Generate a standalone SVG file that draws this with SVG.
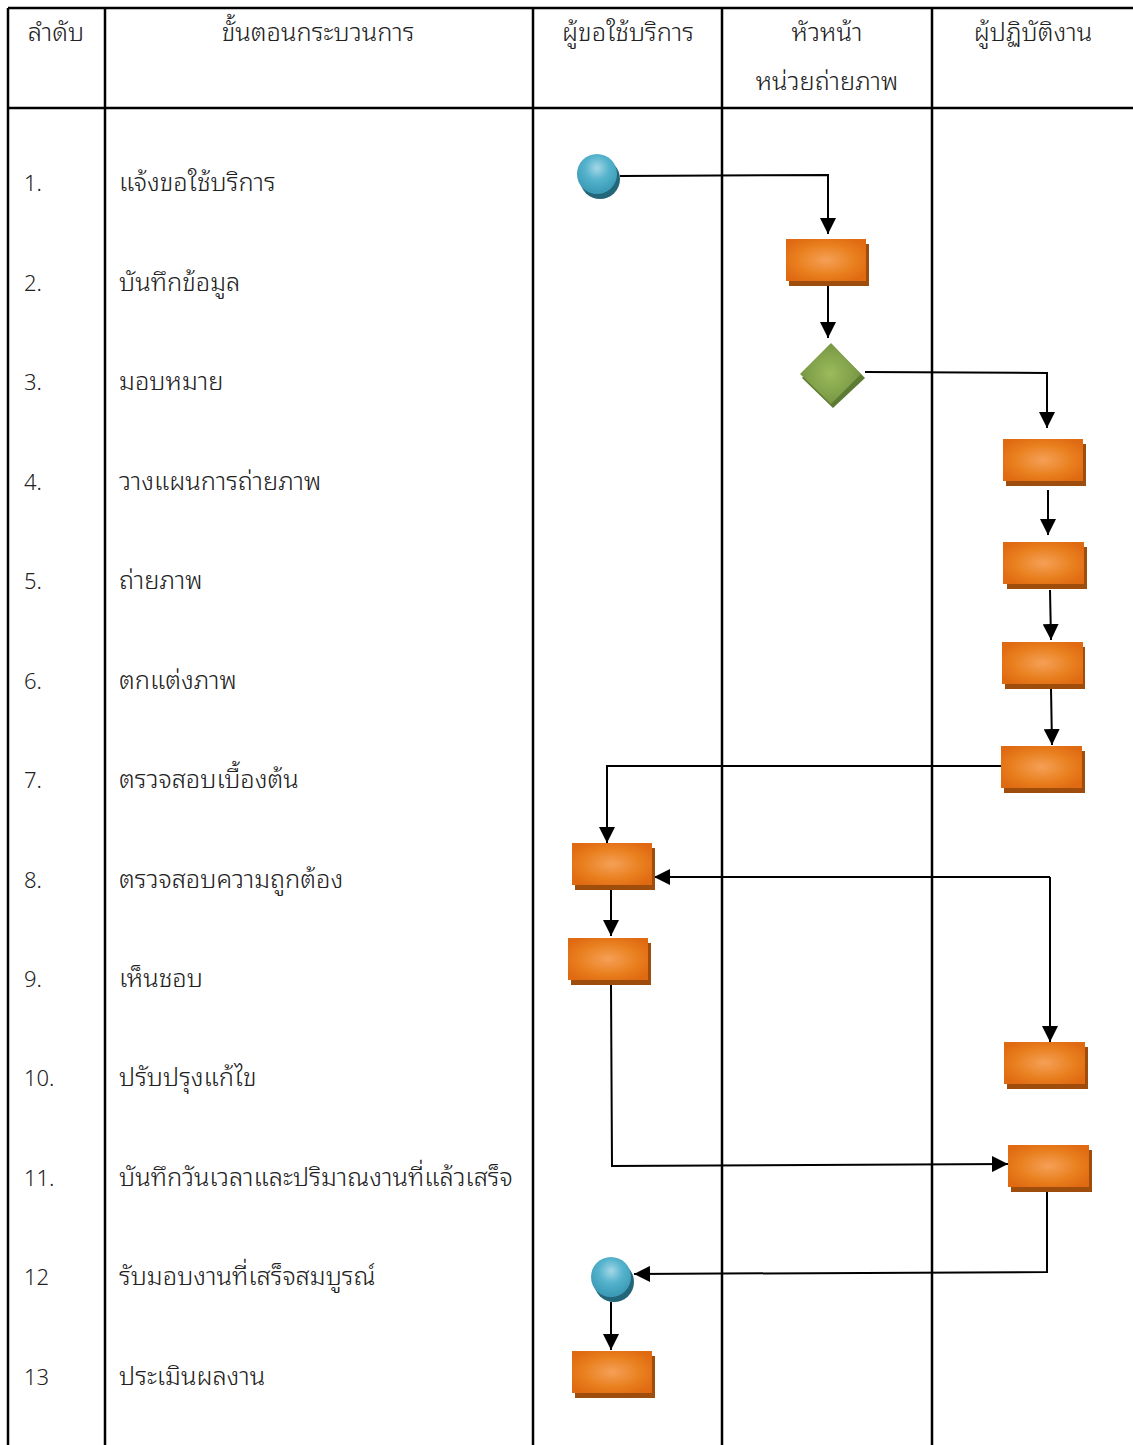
<svg xmlns="http://www.w3.org/2000/svg" width="1133" height="1445" viewBox="0 0 1133 1445">
<style>
.grid{stroke:#000;stroke-width:2.5;fill:none}
.t{font-family:"Noto Sans Thai Looped","Noto Sans Thai","Noto Sans","DejaVu Sans",sans-serif;font-size:25.5px;font-weight:300;fill:#222}
.n{font-family:"Noto Sans","DejaVu Sans",sans-serif;font-size:22px;font-weight:300;fill:#222}
.h{text-anchor:middle}
.c{stroke:#000;stroke-width:2;fill:none}
.a{marker-end:url(#ah)}
.box{fill:url(#og)}
.bsh{fill:#9f4d0c}
.csh{fill:#236579}
.cir{fill:url(#bg)}
</style>
<defs>
<radialGradient id="og" cx="50%" cy="50%" r="60%">
<stop offset="0" stop-color="#f5a057"/>
<stop offset="0.6" stop-color="#e9801f"/>
<stop offset="1" stop-color="#e06a12"/>
</radialGradient>
<radialGradient id="bg" cx="50%" cy="35%" r="60%">
<stop offset="0" stop-color="#a6d7e6"/>
<stop offset="0.5" stop-color="#55b3cd"/>
<stop offset="1" stop-color="#3c9bb6"/>
</radialGradient>
<radialGradient id="gg" cx="50%" cy="50%" r="55%">
<stop offset="0" stop-color="#9cbb5c"/>
<stop offset="1" stop-color="#739341"/>
</radialGradient>
<marker id="ah" markerUnits="userSpaceOnUse" markerWidth="16" markerHeight="16" refX="16" refY="8" orient="auto">
<path d="M0,0 L16,8 L0,16 Z" fill="#000"/>
</marker>
</defs>
<g id="table">
<line class="grid" x1="8" y1="8" x2="1133" y2="8"/>
<line class="grid" x1="8" y1="108" x2="1133" y2="108"/>
<line class="grid" x1="8" y1="8" x2="8" y2="1445"/>
<line class="grid" x1="105" y1="8" x2="105" y2="1445"/>
<line class="grid" x1="533" y1="8" x2="533" y2="1445"/>
<line class="grid" x1="722" y1="8" x2="722" y2="1445"/>
<line class="grid" x1="932" y1="8" x2="932" y2="1445"/>
</g>
<g id="headers">
<text class="t h" x="56" y="41">ลำดับ</text>
<text class="t h" x="318" y="41">ขั้นตอนกระบวนการ</text>
<text class="t h" x="628" y="41">ผู้ขอใช้บริการ</text>
<text class="t h" x="827" y="41">หัวหน้า</text>
<text class="t h" x="827" y="90">หน่วยถ่ายภาพ</text>
<text class="t h" x="1033" y="41">ผู้ปฏิบัติงาน</text>
</g>
<g id="rows">
<text class="n" x="24" y="191">1.</text><text class="t" x="119" y="191">แจ้งขอใช้บริการ</text>
<text class="n" x="24" y="291">2.</text><text class="t" x="119" y="291">บันทึกข้อมูล</text>
<text class="n" x="24" y="390">3.</text><text class="t" x="119" y="390">มอบหมาย</text>
<text class="n" x="24" y="490">4.</text><text class="t" x="119" y="490">วางแผนการถ่ายภาพ</text>
<text class="n" x="24" y="589">5.</text><text class="t" x="119" y="589">ถ่ายภาพ</text>
<text class="n" x="24" y="689">6.</text><text class="t" x="119" y="689">ตกแต่งภาพ</text>
<text class="n" x="24" y="788">7.</text><text class="t" x="119" y="788">ตรวจสอบเบื้องต้น</text>
<text class="n" x="24" y="888">8.</text><text class="t" x="119" y="888">ตรวจสอบความถูกต้อง</text>
<text class="n" x="24" y="987">9.</text><text class="t" x="119" y="987">เห็นชอบ</text>
<text class="n" x="24" y="1086">10.</text><text class="t" x="119" y="1086">ปรับปรุงแก้ไข</text>
<text class="n" x="24" y="1186">11.</text><text class="t" x="119" y="1186">บันทึกวันเวลาและปริมาณงานที่แล้วเสร็จ</text>
<text class="n" x="24" y="1285">12</text><text class="t" x="119" y="1285">รับมอบงานที่เสร็จสมบูรณ์</text>
<text class="n" x="24" y="1385">13</text><text class="t" x="119" y="1385">ประเมินผลงาน</text>
</g>
<g id="connectors">
<polyline class="c a" points="620,176 828,175 828,234"/>
<polyline class="c a" points="828,285 828,338"/>
<polyline class="c a" points="865,372 1047,373 1047,428"/>
<polyline class="c a" points="1048,490 1048,535"/>
<polyline class="c a" points="1050,590 1051,640"/>
<polyline class="c a" points="1051,688 1052,745"/>
<polyline class="c a" points="1001,766 607,766 607,843"/>
<polyline class="c a" points="1050,877 654,877"/>
<polyline class="c a" points="1050,877 1050,1042"/>
<polyline class="c a" points="611,889 611,936"/>
<polyline class="c a" points="611,985 612,1166 1008,1164"/>
<polyline class="c a" points="1047,1192 1047,1272 634,1274"/>
<polyline class="c a" points="611,1302 611,1350"/>
</g>
<g id="n1"><circle class="csh" cx="600" cy="179" r="20"/><circle class="cir" cx="597" cy="174" r="20"/></g>
<g id="n2"><rect class="bsh" x="789" y="244" width="80" height="42"/><rect class="box" x="786" y="239" width="80" height="42"/></g>
<g id="n3"><path d="M833,346 L865,378 L833,408 L802,378 Z" fill="#5d7b32"/><path d="M831,343 L861,374 L831,404 L800,374 Z" fill="url(#gg)"/></g>
<g id="n4"><rect class="bsh" x="1006" y="444" width="80" height="42"/><rect class="box" x="1003" y="439" width="80" height="42"/></g>
<g id="n5"><rect class="bsh" x="1007" y="547" width="80" height="42"/><rect class="box" x="1003" y="542" width="81" height="42"/></g>
<g id="n6"><rect class="bsh" x="1005" y="647" width="80" height="42"/><rect class="box" x="1002" y="642" width="81" height="42"/></g>
<g id="n7"><rect class="bsh" x="1004" y="751" width="81" height="42"/><rect class="box" x="1001" y="746" width="81" height="42"/></g>
<g id="n8"><rect class="bsh" x="575" y="848" width="80" height="42"/><rect class="box" x="572" y="843" width="80" height="42"/></g>
<g id="n9"><rect class="bsh" x="571" y="943" width="80" height="42"/><rect class="box" x="568" y="938" width="80" height="42"/></g>
<g id="n10"><rect class="bsh" x="1007" y="1047" width="81" height="42"/><rect class="box" x="1004" y="1042" width="81" height="42"/></g>
<g id="n11"><rect class="bsh" x="1011" y="1150" width="81" height="42"/><rect class="box" x="1008" y="1145" width="81" height="42"/></g>
<g id="n12"><circle class="csh" cx="614" cy="1282" r="20"/><circle class="cir" cx="611" cy="1277" r="20"/></g>
<g id="n13"><rect class="bsh" x="575" y="1356" width="80" height="42"/><rect class="box" x="572" y="1351" width="80" height="42"/></g>
</svg>
